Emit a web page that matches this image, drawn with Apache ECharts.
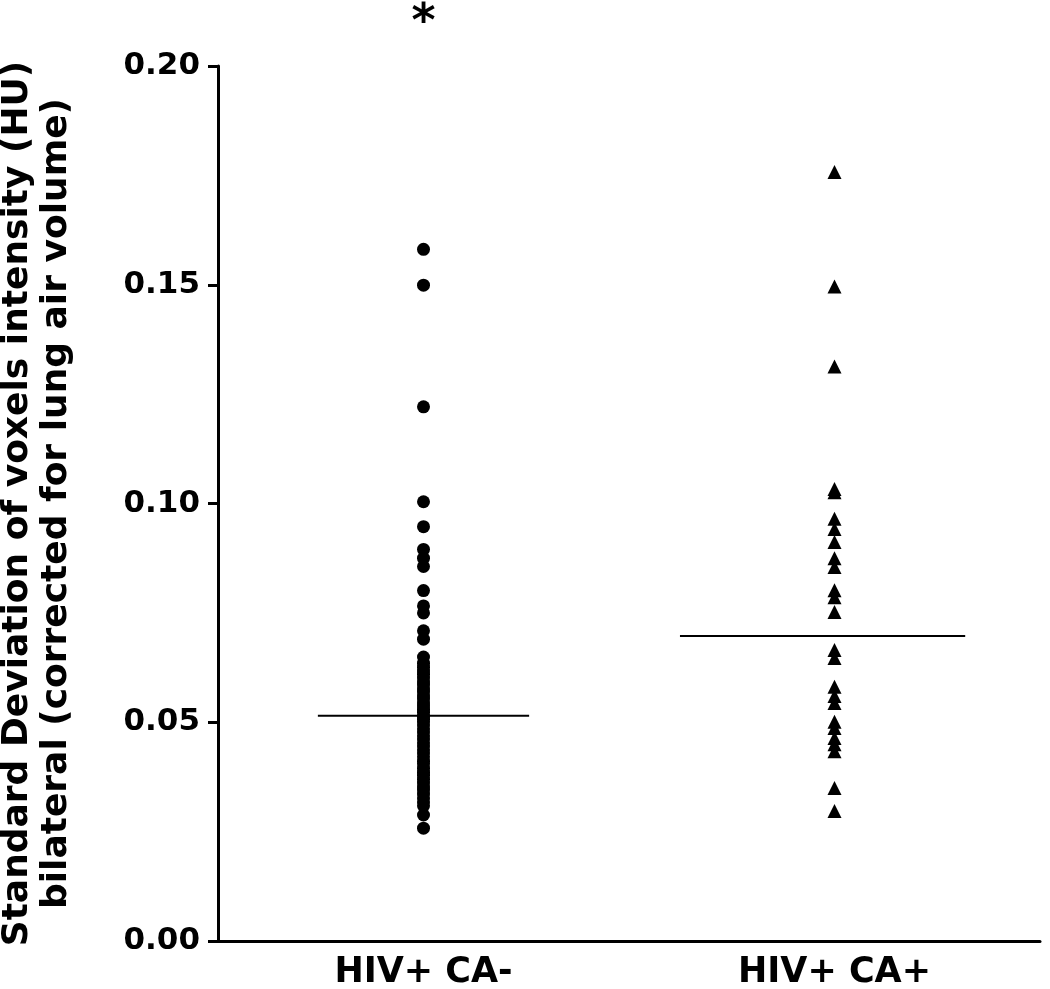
<!DOCTYPE html>
<html>
<head>
<meta charset="utf-8">
<script src="https://cdn.jsdelivr.net/npm/echarts@6/dist/echarts.min.js"></script>
<style>html,body{margin:0;padding:0;background:#fff}#c{width:1050px;height:989px}</style>
</head>
<body>
<div id="c"></div>
<script>
// ---- data ----
const categories = ['HIV+ CA-', 'HIV+ CA+'];
const caNegValues = [
  0.1581, 0.1499, 0.1221, 0.1004, 0.0947, 0.0895, 0.0875, 0.0856, 0.0801, 0.0766,
  0.0750, 0.0709, 0.0690, 0.0649, 0.0635, 0.0626, 0.0617, 0.0610, 0.0601, 0.0592,
  0.0585, 0.0576, 0.0569, 0.0560, 0.0553, 0.0544, 0.0537, 0.0530, 0.0523, 0.0514,
  0.0507, 0.0501, 0.0494, 0.0485, 0.0478, 0.0469, 0.0462, 0.0453, 0.0446, 0.0437,
  0.0430, 0.0421, 0.0411, 0.0405, 0.0395, 0.0386, 0.0379, 0.0370, 0.0361, 0.0352,
  0.0345, 0.0336, 0.0327, 0.0318, 0.0309, 0.0288, 0.0258
];
const caPosValues = [
  0.1758, 0.1496, 0.1313, 0.1033, 0.1026, 0.0965, 0.0942, 0.0912, 0.0875, 0.0855,
  0.0802, 0.0786, 0.0752, 0.0665, 0.0647, 0.0581, 0.0560, 0.0544, 0.0501, 0.0487,
  0.0464, 0.0450, 0.0434, 0.0350, 0.0297
];
const groupLines = [0.0515, 0.0697];
const yTickValues = [0, 0.05, 0.10, 0.15, 0.20];
const significanceMark = '*';

// ---- style ----
const FONT = 'DejaVu Sans';
const lineSpans = [[0.243, 0.757], [1.124, 1.818]]; // horizontal extent of group lines (in category units)

const chart = echarts.init(document.getElementById('c'));
const option = {
  animation: false,
  backgroundColor: '#fff',
  grid: { left: 218, right: 10, top: 66, bottom: 48, containLabel: false, outerBoundsMode: 'none' },
  xAxis: [
    {
      type: 'category', data: categories, boundaryGap: true,
      axisLine: { lineStyle: { color: '#000', width: 3 } },
      axisTick: { alignWithLabel: true, length: 10, lineStyle: { color: '#000', width: 3 } },
      axisLabel: { color: '#000', fontFamily: FONT, fontWeight: 'bold', fontSize: 35, margin: 14 },
      splitLine: { show: false }
    },
    {
      type: 'value', min: 0, max: 2, show: false, position: 'bottom'
    }
  ],
  yAxis: {
    type: 'value', min: yTickValues[0], max: yTickValues[yTickValues.length - 1], interval: 0.05,
    axisLine: { show: true, lineStyle: { color: '#000', width: 3 } },
    axisTick: { show: true, length: 10, lineStyle: { color: '#000', width: 3 } },
    axisLabel: { color: '#000', fontFamily: FONT, fontWeight: 'bold', fontSize: 31, margin: 18,
      formatter: v => v.toFixed(2) },
    splitLine: { show: false },
    name: 'Standard Deviation of voxels intensity (HU)\nbilateral (corrected for lung air volume)',
    nameLocation: 'middle', nameRotate: 90, nameGap: 142,
    nameTextStyle: { color: '#000', fontFamily: FONT, fontWeight: 'bold', fontSize: 36, lineHeight: 39 }
  },
  series: [
    {
      type: 'scatter', xAxisIndex: 0, symbol: 'circle', symbolSize: 13,
      itemStyle: { color: '#000', opacity: 1 },
      data: caNegValues.map(v => [categories[0], v])
    },
    {
      type: 'scatter', xAxisIndex: 0, symbol: 'triangle', symbolSize: 14,
      itemStyle: { color: '#000', opacity: 1 },
      data: caPosValues.map(v => [categories[1], v])
    },
    ...groupLines.map((m, i) => ({
      type: 'line', xAxisIndex: 1, symbol: 'none',
      lineStyle: { color: '#000', width: 2 },
      data: [[lineSpans[i][0], m], [lineSpans[i][1], m]]
    }))
  ]
};
chart.setOption(option);

// significance asterisk above first group
const markPos = chart.convertToPixel({ xAxisIndex: 0, yAxisIndex: 0 }, [categories[0], yTickValues[yTickValues.length - 1]]);
chart.setOption({
  graphic: [{
    type: 'text', x: markPos[0], y: markPos[1] - 42,
    style: { text: significanceMark, fill: '#000', font: 'bold 46px ' + FONT, align: 'center', verticalAlign: 'middle' }
  }]
});
</script>
</body>
</html>
